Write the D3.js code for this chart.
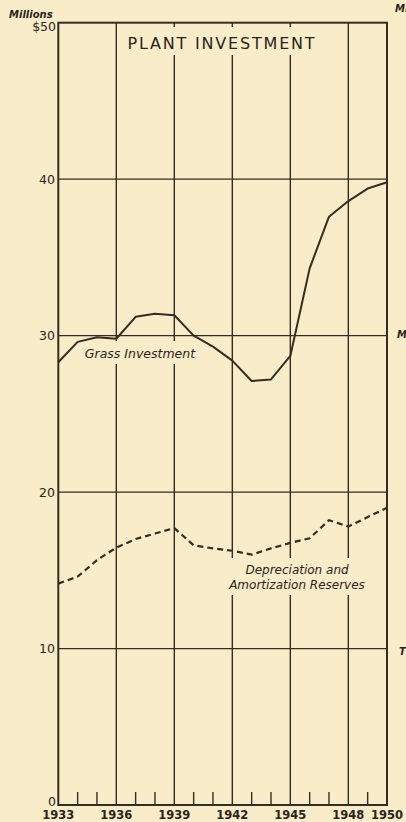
<!DOCTYPE html>
<html>
<head>
<meta charset="utf-8">
<script src="https://cdn.jsdelivr.net/npm/d3@7"></script>
<style>
  html, body { margin: 0; padding: 0; background: #f8ecc9; }
  svg { display: block; }
  text { fill: #2a241b; font-family: "DejaVu Sans", sans-serif; }
</style>
</head>
<body>
<svg width="406" height="822"></svg>
<script>
// chart values
const years = [1933, 1934, 1935, 1936, 1937, 1938, 1939, 1940, 1941, 1942,
               1943, 1944, 1945, 1946, 1947, 1948, 1949, 1950];
const grossInvestment = [28.3, 29.6, 29.9, 29.8, 31.2, 31.4, 31.3, 30.0, 29.3, 28.4,
                         27.1, 27.2, 28.7, 34.3, 37.6, 38.6, 39.4, 39.8];
const depreciation = [14.15, 14.6, 15.65, 16.45, 17.0, 17.35, 17.7, 16.6, 16.4, 16.25,
                      16.0, 16.4, 16.75, 17.05, 18.2, 17.8, 18.4, 19.0];
const yearLabels = [1933, 1936, 1939, 1942, 1945, 1948, 1950];
const gridYears = [1936, 1939, 1942, 1945, 1948];
const valueTicks = [10, 20, 30, 40];

const ink = "#352d22";
const svg = d3.select("svg");

const x = d3.scaleLinear().domain([1933, 1950]).range([58.3, 387]);
const y = d3.scaleLinear().domain([0, 50]).range([805, 22.7]);

const g = svg.append("g");

// horizontal grid
g.append("g")
    .selectAll("line")
    .data(valueTicks)
    .enter().append("line")
    .attr("x1", x(1933))
    .attr("x2", x(1950))
    .attr("y1", d => y(d))
    .attr("y2", d => y(d))
    .attr("stroke", ink)
    .attr("stroke-width", 1.2);

// vertical grid
g.append("g")
    .selectAll("line")
    .data(gridYears)
    .enter().append("line")
    .attr("x1", d => x(d))
    .attr("x2", d => x(d))
    .attr("y1", y(50))
    .attr("y2", y(0))
    .attr("stroke", ink)
    .attr("stroke-width", 1.4);

// minor year ticks along the bottom
g.append("g")
    .selectAll("line")
    .data(years.filter(d => gridYears.indexOf(d) < 0 && d !== 1933 && d !== 1950))
    .enter().append("line")
    .attr("x1", d => x(d))
    .attr("x2", d => x(d))
    .attr("y1", y(0))
    .attr("y2", y(0) - 13)
    .attr("stroke", ink)
    .attr("stroke-width", 1.4);

// frame
g.append("rect")
    .attr("x", x(1933))
    .attr("y", y(50))
    .attr("width", x(1950) - x(1933))
    .attr("height", y(0) - y(50))
    .attr("fill", "none")
    .attr("stroke", ink)
    .attr("stroke-width", 2);

// label backgrounds that break the grid
const bg = "#f8ecc9";
g.append("rect").attr("x", 125).attr("y", 27).attr("width", 195).attr("height", 28).attr("fill", bg);
g.append("rect").attr("x", 80).attr("y", 341).attr("width", 120).attr("height", 23).attr("fill", bg);
g.append("rect").attr("x", 222).attr("y", 558).attr("width", 150).attr("height", 37).attr("fill", bg);

// lines
const line = d3.line()
    .x((d, i) => x(years[i]))
    .y(d => y(d));

g.append("path")
    .datum(grossInvestment)
    .attr("d", line)
    .attr("fill", "none")
    .attr("stroke", ink)
    .attr("stroke-width", 2)
    .attr("stroke-linejoin", "round");

g.append("path")
    .datum(depreciation)
    .attr("d", line)
    .attr("fill", "none")
    .attr("stroke", ink)
    .attr("stroke-width", 2.2)
    .attr("stroke-dasharray", "6 4");

// axis labels
g.append("g")
    .selectAll("text")
    .data(valueTicks)
    .enter().append("text")
    .attr("x", 55)
    .attr("y", d => y(d))
    .attr("dy", 4.5)
    .attr("text-anchor", "end")
    .attr("font-size", 12.5)
    .text(d => d);

g.append("text").attr("x", 56).attr("y", 31).attr("text-anchor", "end")
    .attr("font-size", 12.5).text("$50");
g.append("text").attr("x", 56).attr("y", 806).attr("text-anchor", "end")
    .attr("font-size", 12.5).text("0");
g.append("text").attr("x", 9).attr("y", 18)
    .attr("font-size", 10).attr("font-style", "italic").attr("font-weight", "bold")
    .text("Millions");

g.append("g")
    .selectAll("text")
    .data(yearLabels)
    .enter().append("text")
    .attr("x", d => x(d))
    .attr("y", 819)
    .attr("text-anchor", "middle")
    .attr("font-size", 11.5)
    .attr("font-weight", "bold")
    .text(d => d);

// title and series labels
g.append("text")
    .attr("x", 222)
    .attr("y", 49)
    .attr("text-anchor", "middle")
    .attr("font-size", 16)
    .attr("letter-spacing", 1.8)
    .text("PLANT INVESTMENT");

g.append("text")
    .attr("x", 140)
    .attr("y", 358)
    .attr("text-anchor", "middle")
    .attr("font-size", 12.5)
    .attr("font-style", "italic")
    .text("Grass Investment");

g.append("text")
    .attr("x", 297)
    .attr("y", 574)
    .attr("text-anchor", "middle")
    .attr("font-size", 12)
    .attr("font-style", "italic")
    .text("Depreciation and");

g.append("text")
    .attr("x", 297)
    .attr("y", 589)
    .attr("text-anchor", "middle")
    .attr("font-size", 12)
    .attr("font-style", "italic")
    .text("Amortization Reserves");

// cut-off letters from the neighbouring chart
const edge = [["Mi", 395, 12], ["M", 397, 338], ["T", 399, 655]];
g.append("g")
    .selectAll("text")
    .data(edge)
    .enter().append("text")
    .attr("x", d => d[1])
    .attr("y", d => d[2])
    .attr("font-size", 10)
    .attr("font-style", "italic")
    .attr("font-weight", "bold")
    .text(d => d[0]);
</script>
</body>
</html>
